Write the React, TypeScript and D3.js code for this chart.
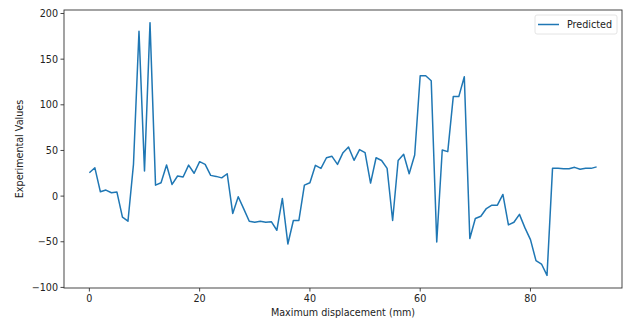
import React from "react";
import * as d3 from "d3";

const predicted: number[] = [
  25.6, 31, 4.7, 6.6, 3.7, 4.4, -23, -27.5, 34.8, 180.6,
  27.5, 190, 12, 14.6, 34, 12.8, 22, 20.9, 34, 25,
  37.7, 34.8, 22.7, 21.6, 20, 24.5, -19, -0.7, -14, -27.5,
  -28.6, -27.5, -28.6, -28, -37.4, -2.5, -52.4, -26.7, -26.7, 12,
  14.6, 33.7, 30.4, 42, 43.6, 34.8, 47.6, 53.8, 39.2, 50.9,
  47.6, 14.3, 42, 39, 30.4, -26.7, 39, 45.8, 24.5, 45,
  131.9, 131.9, 126.4, -50.2, 50.5, 48.7, 109, 109, 130.8, -46.5,
  -24.5, -22, -13.6, -9.9, -9.9, 1.8, -31.5, -28.6, -20, -34.8,
  -47.6, -70.7, -74.4, -86.8, 30.4, 30.4, 30, 30, 31.5, 29.5,
  30.4, 30.4, 32,
];
const xTicks = [0, 20, 40, 60, 80];
const yTicks = [-100, -50, 0, 50, 100, 150, 200];
const seriesName = "Predicted";
const xLabel = "Maximum displacement (mm)";
const yLabel = "Experimental Values";

export default function App() {
  const W = 626, H = 322;
  const left = 64, right = 622, top = 10, bottom = 288;
  const n = predicted.length;
  const xPad = (n - 1) * 0.05;
  const x = d3.scaleLinear().domain([-xPad, n - 1 + xPad]).range([left, right]);
  const ymin = d3.min(predicted)!, ymax = d3.max(predicted)!;
  const yPad = (ymax - ymin) * 0.05;
  const y = d3.scaleLinear().domain([ymin - yPad, ymax + yPad]).range([bottom, top]);
  const line = d3.line<number>().x((_, i) => x(i)).y((d) => y(d));
  const font = "DejaVu Sans, sans-serif";
  const fs = 9.6;
  const axisColor = "#333";
  return (
    <svg width={W} height={H} style={{ position: "absolute", left: 0, top: 0 }} fontFamily={font}>
      <rect x={0} y={0} width={W} height={H} fill="#fff" />
      <path d={line(predicted)!} fill="none" stroke="#1f77b4" strokeWidth={1.5} strokeLinejoin="round" />
      <rect x={left} y={top} width={right - left} height={bottom - top} fill="none" stroke={axisColor} strokeWidth={0.9} />
      {xTicks.map((t) => (
        <g key={"x" + t}>
          <line x1={x(t)} x2={x(t)} y1={bottom} y2={bottom + 3.5} stroke={axisColor} strokeWidth={0.9} />
          <text x={x(t)} y={bottom + 14} textAnchor="middle" fontSize={fs} fill="#222">
            {t < 0 ? "\u2212" + Math.abs(t) : t}
          </text>
        </g>
      ))}
      {yTicks.map((t) => (
        <g key={"y" + t}>
          <line x1={left - 3.5} x2={left} y1={y(t)} y2={y(t)} stroke={axisColor} strokeWidth={0.9} />
          <text x={left - 6} y={y(t) + 3.4} textAnchor="end" fontSize={fs} fill="#222">
            {t < 0 ? "\u2212" + Math.abs(t) : t}
          </text>
        </g>
      ))}
      <text x={(left + right) / 2} y={316} textAnchor="middle" fontSize={fs} fill="#222">{xLabel}</text>
      <text transform={`translate(23,${(top + bottom) / 2}) rotate(-90)`} textAnchor="middle" fontSize={fs} fill="#222">{yLabel}</text>
      <g>
        <rect x={535} y={15} width={82} height={19} rx={2} fill="#fff" stroke="#ddd" strokeWidth={0.8} />
        <line x1={538} x2={559} y1={24.5} y2={24.5} stroke="#1f77b4" strokeWidth={1.5} />
        <text x={567} y={28} fontSize={fs} fill="#222">{seriesName}</text>
      </g>
    </svg>
  );
}
